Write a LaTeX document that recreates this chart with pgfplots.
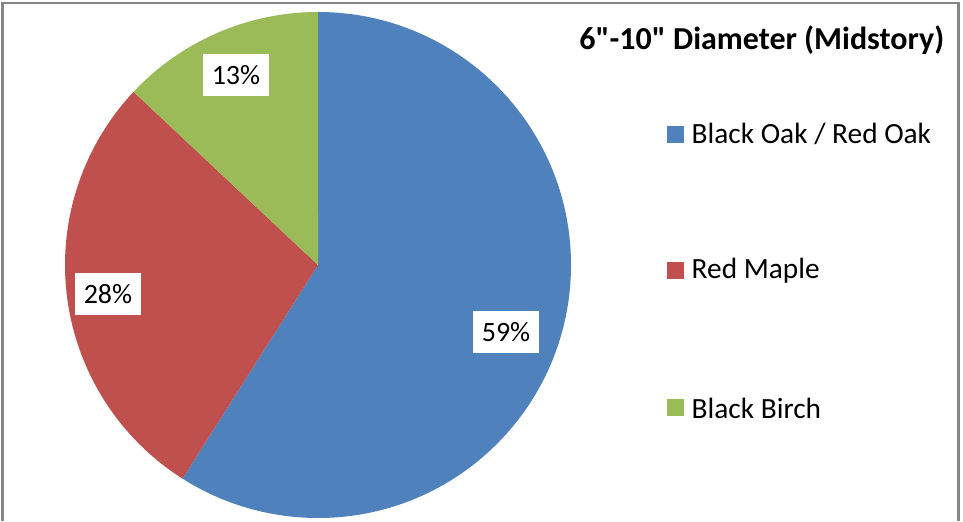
\documentclass[border=0pt]{standalone}
\usepackage{pgfplots}
\pgfplotsset{compat=1.18}
\usepackage{pgfplotstable}
\usepackage{fontspec}
\setmainfont{Carlito}[Ligatures=TeXOff]
\definecolor{cblue}{HTML}{4F81BD}
\definecolor{cred}{HTML}{C0504D}
\definecolor{cgreen}{HTML}{9BBB59}
\definecolor{cframe}{HTML}{868686}

\pgfplotstableread{
label value
{Black Oak / Red Oak} 59
{Red Maple} 28
{Black Birch} 13
}\piedata

\begin{document}
\begin{tikzpicture}
\pgfplotstablegetelem{0}{value}\of\piedata \edef\va{\pgfplotsretval}
\pgfplotstablegetelem{1}{value}\of\piedata \edef\vb{\pgfplotsretval}
\pgfplotstablegetelem{2}{value}\of\piedata \edef\vc{\pgfplotsretval}
\pgfmathsetmacro{\tot}{\va+\vb+\vc}
\pgfmathsetmacro{\aA}{90}
\pgfmathsetmacro{\aB}{90-(\va/\tot)*360}
\pgfmathsetmacro{\aC}{\aB-(\vb/\tot)*360}
\pgfmathsetmacro{\aD}{\aC-(\vc/\tot)*360}
\pgfmathsetmacro{\R}{253*0.75}
\begin{axis}[
  name=ax,
  x=0.75pt, y=0.75pt,
  xmin=0, xmax=963, ymin=0, ymax=521,
  hide axis, clip=false,
  xtick=\empty, ytick=\empty,
]
\path[fill=white] (axis cs:0,0) rectangle (axis cs:963,521);
% slices
\fill[cblue] (axis cs:318,256) -- ++(\aA:\R pt) arc[start angle=\aA, end angle=\aB, radius=\R pt] -- cycle;
\fill[cred] (axis cs:318,256) -- ++(\aB:\R pt) arc[start angle=\aB, end angle=\aC, radius=\R pt] -- cycle;
\fill[cgreen] (axis cs:318,256) -- ++(\aC:\R pt) arc[start angle=\aC, end angle=\aD, radius=\R pt] -- cycle;
% data labels
\tikzset{dl/.style={fill=white, inner sep=0pt, minimum width=50pt, minimum height=32pt, font=\fontsize{21}{24}\selectfont}}
\node[dl] at (axis cs:506,189) {\va\%};
\node[dl] at (axis cs:108,227) {\vb\%};
\node[dl] at (axis cs:236,446) {\vc\%};
% title
\node[anchor=east, font=\fontsize{24}{28}\selectfont\bfseries] at (axis cs:949,481) {6"-10" Diameter (Midstory)};
% legend
\tikzset{lg/.style={anchor=west, font=\fontsize{22}{26}\selectfont}}
\fill[cblue] (axis cs:667,378) rectangle (axis cs:684,395);
\node[lg] at (axis cs:687,387) {Black Oak / Red Oak};
\fill[cred] (axis cs:667,242) rectangle (axis cs:684,259);
\node[lg] at (axis cs:687,250) {Red Maple};
\fill[cgreen] (axis cs:667,105) rectangle (axis cs:684,122);
\node[lg] at (axis cs:687,113) {Black Birch};
% frame
\draw[cframe, line width=1.6pt] (axis cs:2.5,0) -- (axis cs:2.5,518) -- (axis cs:958.5,518) -- (axis cs:958.5,0);
\end{axis}
\pgfresetboundingbox
\path[use as bounding box] (ax.south west) rectangle (ax.north east);
\end{tikzpicture}
\end{document}
